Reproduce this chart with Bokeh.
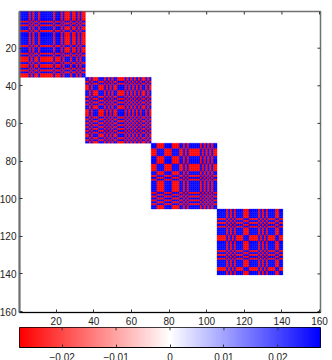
from bokeh.plotting import figure
from bokeh.layouts import column
from bokeh.models import FixedTicker, LinearColorMapper, Range1d
from bokeh.embed import file_html
from bokeh.resources import INLINE
import numpy as np

block_starts = [1, 36, 71, 106]
block_signs = [
    "BBBBBRBRBBRBBBBBBBRBBBRBRRRBRRBRBRR",
    "BBRBRRRBBBRBRBRBBRRRRBRBRBRBRBRRBRB",
    "BBBRRRRBBBBRRRRBBRBRBBBBBBRBRBRBRBB",
    "BBBBBRBRBRBBBBRRRBBBBBRBRBRBBBBRRBB",
]
amplitude = 0.0279
axis_ticks = [20, 40, 60, 80, 100, 120, 140, 160]
cbar_ticks = [-0.02, -0.01, 0, 0.01, 0.02]
cbar_labels = {-0.02: "\u22120.02", -0.01: "\u22120.01", 0: "0", 0.01: "0.01", 0.02: "0.02"}
FONT = "Liberation Sans"
FS = "10px"

xs, ys, cs = [], [], []
for start, signs in zip(block_starts, block_signs):
    s = np.array([1 if c == "B" else -1 for c in signs])
    m = np.outer(s, s)
    for i in range(len(s)):
        for j in range(len(s)):
            xs.append(start + j)
            ys.append(start + i)
            cs.append("#0000ff" if m[i, j] > 0 else "#ff0000")

p = figure(width=332, height=327, x_range=Range1d(0.5, 160.5), y_range=Range1d(160.5, 0.5),
           frame_width=301, frame_height=301, min_border_left=20, min_border_right=11,
           min_border_top=11, min_border_bottom=15,
           toolbar_location=None, output_backend="svg", tools="")
p.grid.visible = False
p.outline_line_color = "#707070"
p.outline_line_width = 1.5
p.rect(xs, ys, 1, 1, fill_color=cs, line_color=cs, line_width=0.3)

# ticks on the top and right edges, pointing inward
tk = np.array(axis_ticks, dtype=float)
p.segment(tk, 0.5, tk, 2.1, line_color="#333333", line_width=1)
p.segment(158.9, tk, 160.5, tk, line_color="#333333", line_width=1)

def style(ax, color, w, standoff=3):
    ax.major_tick_in = 3
    ax.major_tick_out = 0
    ax.minor_tick_line_color = None
    ax.major_tick_line_color = "#333333"
    ax.axis_line_color = color
    ax.axis_line_width = w
    ax.major_label_standoff = standoff
    ax.major_label_text_font = FONT
    ax.major_label_text_font_size = FS
    ax.major_label_text_color = "#222222"

p.xaxis[0].ticker = FixedTicker(ticks=axis_ticks)
p.yaxis[0].ticker = FixedTicker(ticks=axis_ticks)
style(p.xaxis[0], "black", 1, standoff=4)
style(p.yaxis[0], "#707070", 2)

cb = figure(width=332, height=33, x_range=Range1d(-amplitude, amplitude), y_range=Range1d(0, 1),
            frame_width=301, frame_height=20, min_border_left=20, min_border_right=11,
            min_border_top=0, min_border_bottom=13,
            toolbar_location=None, output_backend="svg", tools="")
cb.grid.visible = False
cb.outline_line_color = "black"
mapper = LinearColorMapper(low=-amplitude, high=amplitude,
    palette=[f"#ff{int(255*i/127):02x}{int(255*i/127):02x}" for i in range(128)] +
            [f"#{int(255*(127-i)/127):02x}{int(255*(127-i)/127):02x}ff" for i in range(128)])
grad = np.linspace(-amplitude, amplitude, 301).reshape(1, -1)
cb.image(image=[grad], x=-amplitude, y=0, dw=2 * amplitude, dh=1, color_mapper=mapper)
ct = np.array(cbar_ticks)
cb.segment(ct, 0.86, ct, 1.0, line_color="#333333", line_width=1)
cb.xaxis[0].ticker = FixedTicker(ticks=cbar_ticks)
cb.xaxis[0].major_label_overrides = cbar_labels
style(cb.xaxis[0], "black", 1, standoff=5)
cb.yaxis.visible = False

layout = column(p, cb, spacing=0, margin=(0, 0, 0, -4))
open("out.html", "w").write(file_html(layout, INLINE))
